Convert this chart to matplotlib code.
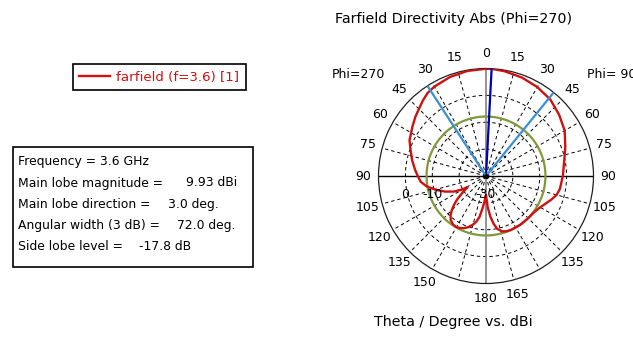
import numpy as np
import matplotlib
matplotlib.use("Agg")
import matplotlib.pyplot as plt
from matplotlib.patches import Rectangle
from matplotlib.transforms import offset_copy

# farfield cut, Phi=90 half (theta 0..180, right side)
theta_phi90 = [0, 3, 10, 20, 30, 40, 50, 60, 70, 80, 90, 100, 105, 110, 115,
               120, 126, 135, 145, 155, 160, 164, 168, 171, 174, 177, 180]
dbi_phi90 = [9.9, 9.93, 9.6, 9.0, 8.2, 7.2, 5.5, 3.8, 1.4, -0.5, -1.4, -2.1,
             -2.8, -4.2, -5.6, -6.7, -7.5, -7.8, -7.8, -7.9, -8.1, -8.6, -9.9,
             -12.0, -14.9, -18.5, -23.0]

# Phi=270 half (theta 0..180, left side)
theta_phi270 = [0, 10, 20, 30, 35, 40, 45, 50, 56, 65, 71, 78, 85, 90, 95, 100,
                106, 111, 116, 119, 121, 123, 125, 129, 132, 135, 138, 141, 145,
                149, 153, 157, 161, 165, 168, 171, 174, 177, 180]
dbi_phi270 = [9.9, 9.7, 9.2, 8.4, 7.8, 6.6, 5.3, 4.3, 3.0, 1.4, -0.3, -1.9, -3.5,
              -4.6, -5.6, -7.6, -11.0, -13.8, -16.8, -19.5, -22.0, -21.0, -19.5,
              -16.2, -14.0, -12.0, -10.3, -9.1, -8.3, -8.0, -8.3, -8.9, -9.9,
              -11.3, -12.6, -14.6, -18.0, -20.8, -23.0]

main_lobe_dir = 3.0
beam_edges = [-33.0, 39.0]
side_lobe_level = 9.93 - 17.8

r_min, r_max = -30, 10
ring_levels = [-20, -10, 0]
ring_labels = {0: "0", -10: "-10", -30: "-30"}

tick_right = [0, 15, 30, 45, 60, 75, 90, 105, 120, 135, 165, 180]
tick_left = [15, 30, 45, 60, 75, 90, 105, 120, 135, 150]

info_lines = [("Frequency = 3.6 GHz", ""),
              ("Main lobe magnitude =", "9.93 dBi"),
              ("Main lobe direction =", "3.0 deg."),
              ("Angular width (3 dB) =", "72.0 deg."),
              ("Side lobe level =", "-17.8 dB")]
value_x = [0, 186, 168.3, 176.7, 139.3]

c_red = "#d01010"
c_green = "#7f9a3c"
c_dkblue = "#0000b0"
c_ltblue = "#3b8fd4"

W, H = 633, 343
fig = plt.figure(figsize=(W / 100, H / 100), dpi=100)
plt.rcParams['font.family'] = 'DejaVu Sans'
fs_tick = 9
fs_info = 8.9
fs_leg = 9.6
fs_title = 10.3

cx, cy, R = 486, 176, 107.5
ax = fig.add_axes([(cx - R) / W, (H - cy - R) / H, 2 * R / W, 2 * R / H],
                  projection='polar')
ax.set_theta_zero_location('N')
ax.set_theta_direction(-1)
ax.set_ylim(r_min, r_max)
ax.grid(False)
ax.set_xticks([])
ax.set_yticks([])
ax.spines['polar'].set_linewidth(0.9)
ax.spines['polar'].set_color('#202020')

full = np.linspace(0, 2 * np.pi, 361)
# dashed rings and spokes
for lv in ring_levels:
    ax.plot(full, np.full_like(full, lv), color='black', lw=0.7,
            ls=(0, (3.5, 3)), zorder=1)
for a in range(0, 360, 15):
    if a % 90 == 0:
        continue
    ax.plot([np.radians(a)] * 2, [r_min, r_max], color='black', lw=0.7,
            ls=(0, (3.5, 3)), zorder=1)
# axis cross
ax.plot([np.radians(90), np.radians(270)], [r_max, r_max], color='black',
        lw=1.0, zorder=2)
ax.plot([0, 0], [r_min, r_max], color='#808080', lw=1.2, zorder=2)
ax.plot([np.pi, np.pi], [r_min, r_max], color='#808080', lw=1.2, zorder=2)

# side lobe level circle
ax.plot(full, np.full_like(full, side_lobe_level), color=c_green, lw=1.6,
        zorder=3)

# pattern
th = np.concatenate([np.radians(theta_phi90),
                     np.radians(360 - np.array(theta_phi270[::-1]))])
rr = np.concatenate([dbi_phi90, dbi_phi270[::-1]])
ax.plot(th, rr, color=c_red, lw=1.7, zorder=5,
        label="farfield (f=3.6) [1]")

# main lobe and 3 dB beam width lines
ax.plot([np.radians(main_lobe_dir)] * 2, [r_min, r_max], color=c_dkblue,
        lw=1.6, zorder=6)
for b in beam_edges:
    ax.plot([np.radians(b)] * 2, [r_min, r_max], color=c_ltblue, lw=1.6,
            zorder=6)
ax.plot([0], [r_min], 'o', color='black', ms=2.5, zorder=7)

# theta labels
lab_r = r_min + (r_max - r_min) * 1.14
for t in tick_right:
    ax.text(np.radians(t), lab_r, str(t), ha='center', va='center',
            fontsize=fs_tick)
for t in tick_left:
    ax.text(np.radians(360 - t), lab_r, str(t), ha='center', va='center',
            fontsize=fs_tick)
# radial labels
for lv, s in ring_labels.items():
    tr = offset_copy(ax.transData, fig=fig, x=0, y=-18, units='dots')
    ax.text(np.radians(270) if lv > r_min else 0, lv, s, transform=tr,
            ha='center', va='center', fontsize=fs_tick, zorder=8)

fig.text(358 / W, 1 - 75 / H, "Phi=270", ha='center', va='center',
         fontsize=fs_tick)
fig.text(587 / W, 1 - 75 / H, "Phi= 90", ha='left', va='center',
         fontsize=fs_tick)

fig.text(454 / W, 1 - 19 / H, "Farfield Directivity Abs (Phi=270)",
         ha='center', va='center', fontsize=fs_title)
fig.text(453 / W, 1 - 322 / H, "Theta / Degree vs. dBi",
         ha='center', va='center', fontsize=fs_title)

leg = ax.legend(loc='center', bbox_to_anchor=(159 / W, 1 - 77 / H),
                bbox_transform=fig.transFigure, fancybox=False,
                edgecolor='black', framealpha=1, fontsize=fs_leg,
                labelcolor=c_red, handlelength=2.3, handletextpad=0.45,
                borderpad=0.5)
leg.get_frame().set_linewidth(1.2)

# info box
fig.patches.append(Rectangle((13.3 / W, 1 - 267 / H), 240 / W, 120.3 / H,
                             transform=fig.transFigure, fill=False,
                             edgecolor='black', lw=1.2))
for i, (lab, val) in enumerate(info_lines):
    y = 1 - (161.7 + 21.3 * i) / H
    fig.text(18 / W, y, lab, ha='left', va='center', fontsize=fs_info)
    if val:
        fig.text(value_x[i] / W, y, val, ha='left', va='center',
                 fontsize=fs_info)

fig.savefig("out.png", dpi=100, facecolor='white')
